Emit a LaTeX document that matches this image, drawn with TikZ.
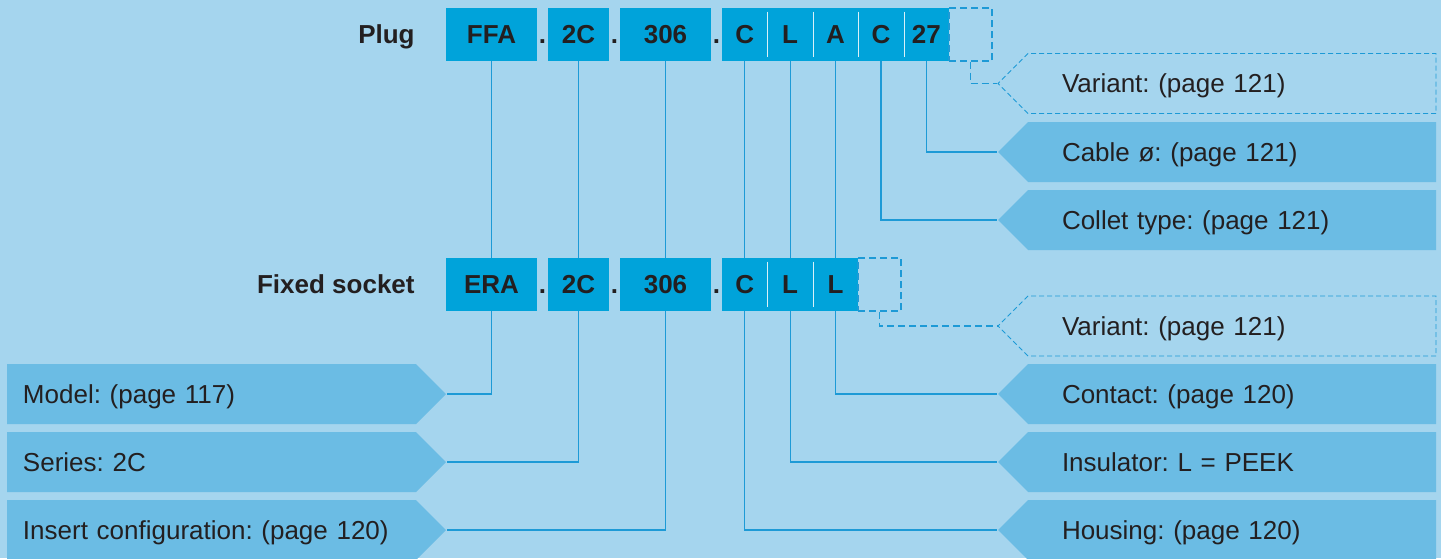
\documentclass[tikz,border=0pt]{standalone}
\usepackage{fontspec}
\setmainfont{Liberation Sans}
\usepackage{xcolor}
\usepackage{tikz}
\usetikzlibrary{shapes.symbols}
\definecolor{bgblue}{RGB}{165, 213, 238}
\definecolor{codeblue}{RGB}{0, 163, 218}
\definecolor{tagblue}{RGB}{107, 188, 228}
\definecolor{lineblue}{RGB}{29, 154, 214}
\definecolor{inkdark}{RGB}{35, 31, 32}
\pgfdeclarelayer{bg}
\pgfdeclarelayer{wires}
\pgfsetlayers{bg,wires,main}

\begin{document}
\frenchspacing
\begin{tikzpicture}[x=0.5pt, y=-0.5pt,
    every node/.style={text=inkdark, font=\fontsize{13}{15}\selectfont},
    codebox/.style={fill=codeblue, inner sep=0, minimum height=26.5pt, text height=9.3pt, text depth=0pt, font=\fontsize{13}{15}\selectfont\bfseries},
    codedot/.style={inner sep=0, text height=9.3pt, text depth=0pt, font=\fontsize{13}{15}\selectfont\bfseries},
    optbox/.style={draw=lineblue, dash pattern=on 3.5pt off 2pt, line width=0.6pt, inner sep=0, minimum width=21.5pt, minimum height=26.5pt},
    tagright/.style={shape=signal, signal to=west, signal pointer angle=90, fill=tagblue, inner sep=0, minimum width=219pt, minimum height=30pt, text width=170pt, align=left, text height=9.3pt, text depth=0pt},
    tagleft/.style={shape=signal, signal to=east, signal pointer angle=90, fill=tagblue, inner sep=0, minimum width=219.5pt, minimum height=30pt, text width=188.5pt, align=left, text height=9.3pt, text depth=0pt},
    varright/.style={tagright, fill=bgblue, draw=lineblue, line width=0.4pt, dash pattern=on 2.5pt off 1.5pt},
    wire/.style={draw=lineblue, line width=0.6pt},
    varwire/.style={wire, dash pattern=on 3.5pt off 2pt},
    sepline/.style={draw=white!85!codeblue, line width=0.5pt}]
    \begin{pgfonlayer}{bg}
        \fill[bgblue] (0,0) rectangle (1441,558);
    \end{pgfonlayer}
    \useasboundingbox (0,0) rectangle (1441,558);

    % plug code
    \node[codedot, anchor=east] (plug) at (415,34.5) {Plug};
    \node[codebox, minimum width=45.5pt] (pffa) at (491.5,34.5) {FFA};
    \node[codedot] (pdot1) at (542.5,34.5) {.};
    \node[codebox, minimum width=30.5pt] (p2c) at (578.5,34.5) {2C};
    \node[codedot] (pdot2) at (614.5,34.5) {.};
    \node[codebox, minimum width=45.5pt] (p306) at (665.5,34.5) {306};
    \node[codedot] (pdot3) at (716.5,34.5) {.};
    \node[codebox, minimum width=22.7pt] (pc) at (744.7,34.5) {C};
    \node[codebox, minimum width=22.7pt] (pl) at (790.1,34.5) {L};
    \node[codebox, minimum width=22.7pt] (pa) at (835.5,34.5) {A};
    \node[codebox, minimum width=22.7pt] (pc2) at (880.9,34.5) {C};
    \node[codebox, minimum width=22.7pt] (p27) at (926.3,34.5) {27};
    \node[optbox] (pvar) at (970.5,34.5) {};
    \draw[sepline] ([yshift=-2pt]pc.north east) -- ([yshift=2pt]pc.south east);
    \draw[sepline] ([yshift=-2pt]pl.north east) -- ([yshift=2pt]pl.south east);
    \draw[sepline] ([yshift=-2pt]pa.north east) -- ([yshift=2pt]pa.south east);
    \draw[sepline] ([yshift=-2pt]pc2.north east) -- ([yshift=2pt]pc2.south east);

    % fixed socket code
    \node[codedot, anchor=east] (socket) at (415,284.5) {Fixed socket};
    \node[codebox, minimum width=45.5pt] (sera) at (491.5,284.5) {ERA};
    \node[codedot] (sdot1) at (542.5,284.5) {.};
    \node[codebox, minimum width=30.5pt] (s2c) at (578.5,284.5) {2C};
    \node[codedot] (sdot2) at (614.5,284.5) {.};
    \node[codebox, minimum width=45.5pt] (s306) at (665.5,284.5) {306};
    \node[codedot] (sdot3) at (716.5,284.5) {.};
    \node[codebox, minimum width=22.7pt] (sc) at (744.7,284.5) {C};
    \node[codebox, minimum width=22.7pt] (sl) at (790.1,284.5) {L};
    \node[codebox, minimum width=22.7pt] (sl2) at (835.5,284.5) {L};
    \node[optbox] (svar) at (879.5,284.5) {};
    \draw[sepline] ([yshift=-2pt]sc.north east) -- ([yshift=2pt]sc.south east);
    \draw[sepline] ([yshift=-2pt]sl.north east) -- ([yshift=2pt]sl.south east);

    % right tags
    \node[varright] (variant) at (1232,83.5) {Variant: (page 121)};
    \node[tagright] (cable) at (1232,152) {Cable ø: (page 121)};
    \node[tagright] (collet) at (1232,220) {Collet type: (page 121)};
    \node[varright] (svariant) at (1232,326) {Variant: (page 121)};
    \node[tagright] (contact) at (1232,394) {Contact: (page 120)};
    \node[tagright] (insulator) at (1232,462) {Insulator: L = PEEK};
    \node[tagright] (housing) at (1232,530) {Housing: (page 120)};

    % left tags
    \node[tagleft] (model) at (211.5,394) {Model: (page 117)};
    \node[tagleft] (series) at (211.5,462) {Series: 2C};
    \node[tagleft] (insert) at (211.5,530) {Insert configuration: (page 120)};

    \begin{pgfonlayer}{wires}
        \draw[wire] (pffa.south) |- (model.east);
        \draw[wire] (p2c.south) |- (series.east);
        \draw[wire] (p306.south) |- (insert.east);
        \draw[wire] (pc.south) |- (housing.west);
        \draw[wire] (pl.south) |- (insulator.west);
        \draw[wire] (pa.south) |- (contact.west);
        \draw[wire] (pc2.south) |- (collet.west);
        \draw[wire] (p27.south) |- (cable.west);
        \draw[varwire] (pvar.south) |- (variant.west);
        \draw[varwire] (svar.south) |- (svariant.west);
    \end{pgfonlayer}
\end{tikzpicture}
\end{document}
